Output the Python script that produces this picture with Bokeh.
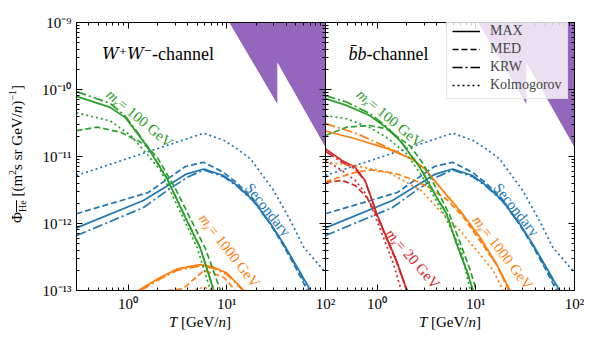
from bokeh.plotting import figure
from bokeh.models import LogAxis, LogTicker, Label, Legend, LegendItem, CustomJSTickFormatter, Div
from bokeh.layouts import row, column
from bokeh.embed import file_html
from bokeh.resources import INLINE

# ---------------- data (T in GeV/n, flux) ----------------
# secondary antihelium (same in both panels)
sec_max_T = [0.3, 1.43, 3.14, 3.81, 5.85, 9.25, 12.7, 18.6, 27.7, 37.5, 51.6, 70.5]
sec_max_phi = [8.6e-13, 2.2e-12, 4.5e-12, 5.4e-12, 6.5e-12, 5.2e-12, 3.7e-12, 2.2e-12, 1.0e-12, 5.0e-13, 2.23e-13, 1.0e-13]
sec_med_T = [0.3, 1.6, 3.81, 5.85, 9.25, 12.7, 18.6, 27.7, 37.5, 51.6, 65.6]
sec_med_phi = [1.4e-12, 2.9e-12, 7.1e-12, 8.2e-12, 5.8e-12, 4.0e-12, 2.3e-12, 9.7e-13, 4.7e-13, 2.0e-13, 1.0e-13]
sec_krw_T = [0.3, 1.43, 2.49, 3.97, 5.85, 9.25, 12.7, 18.6, 27.7, 37.5, 51.6, 69.0]
sec_krw_phi = [6.6e-13, 1.73e-12, 3.1e-12, 4.9e-12, 6.3e-12, 5.0e-12, 3.6e-12, 2.15e-12, 9.8e-13, 4.9e-13, 2.15e-13, 1.0e-13]
sec_kol_T = [0.3, 5.85, 9.4, 12.7, 17.4, 29.9, 44.2, 60.3, 100]
sec_kol_phi = [5.2e-12, 2.23e-11, 1.73e-11, 1.3e-11, 9.2e-12, 3.1e-12, 1.1e-12, 4.4e-13, 1.86e-13]

# W+W- channel, m = 100 GeV
ww100_max_T = [0.3, 0.66, 0.94, 1.56, 2.49, 3.81, 5.41, 7.38]
ww100_max_phi = [7.9e-11, 5.4e-11, 3.8e-11, 1.41e-11, 4.6e-12, 1.21e-12, 4.2e-13, 1.0e-13]
ww100_krw_T = [0.3, 0.66, 0.94, 1.56, 2.49, 3.81, 5.41, 7.38]
ww100_krw_phi = [9.3e-11, 6.2e-11, 4.0e-11, 1.45e-11, 4.7e-12, 1.24e-12, 4.3e-13, 1.02e-13]
ww100_med_T = [0.3, 0.486, 0.84, 1.44, 1.97, 3.02, 6.08, 8.63]
ww100_med_phi = [2.44e-11, 2.74e-11, 2.3e-11, 1.55e-11, 9.8e-12, 3.3e-12, 4.2e-13, 1.0e-13]
ww100_kol_T = [0.3, 0.66, 1.06, 1.44, 2.13, 5.0, 6.84]
ww100_kol_phi = [4.5e-11, 3.4e-11, 2.06e-11, 1.23e-11, 6.2e-12, 4.4e-13, 1.0e-13]

# W+W- channel, m = 1000 GeV
ww1000_max_T = [1.27, 2.13, 3.14, 5.41, 7.38, 10.1, 14.9]
ww1000_max_phi = [1.0e-13, 1.58e-13, 2.1e-13, 2.44e-13, 2.23e-13, 1.81e-13, 1.0e-13]
ww1000_krw_T = [1.35, 2.13, 3.14, 5.41, 7.38, 10.1, 14.6]
ww1000_krw_phi = [1.0e-13, 1.5e-13, 2.0e-13, 2.33e-13, 2.13e-13, 1.73e-13, 1.0e-13]
ww1000_med_T = [2.49, 3.6, 5.85, 9.3, 12.2]
ww1000_med_phi = [1.0e-13, 1.06e-13, 1.99e-13, 1.58e-13, 1.0e-13]
ww1000_kol_T = [4.3, 5.85, 8.0]
ww1000_kol_phi = [9.8e-14, 1.12e-13, 9.8e-14]

# b-bbar channel, m = 100 GeV
bb100_max_T = [0.3, 0.49, 0.84, 1.24, 1.70, 2.71, 4.0, 5.05, 6.37, 8.05, 9.37]
bb100_max_phi = [7.3e-11, 5.8e-11, 4.1e-11, 2.7e-11, 1.73e-11, 6.9e-12, 2.47e-12, 1.4e-12, 5.0e-13, 2.0e-13, 1.0e-13]
bb100_krw_T = [0.3, 0.49, 0.84, 1.24, 1.70, 2.71, 4.0, 5.05, 6.37, 8.05, 9.37]
bb100_krw_phi = [8.1e-11, 6.5e-11, 4.4e-11, 2.8e-11, 1.76e-11, 7.0e-12, 2.5e-12, 1.42e-12, 5.1e-13, 2.05e-13, 1.02e-13]
bb100_med_T = [0.3, 0.49, 0.84, 1.24, 2.14, 2.92, 3.84, 5.4, 7.0, 8.8, 10.1]
bb100_med_phi = [2.06e-11, 2.74e-11, 2.9e-11, 2.6e-11, 1.46e-11, 7.8e-12, 3.7e-12, 1.36e-12, 5.0e-13, 2.0e-13, 1.0e-13]
bb100_kol_T = [0.3, 0.49, 0.84, 1.24, 1.99, 3.04, 4.86, 7.1, 8.8]
bb100_kol_phi = [4.1e-11, 3.66e-11, 2.7e-11, 1.94e-11, 1.1e-11, 4.4e-12, 1.3e-12, 4.0e-13, 1.0e-13]

# b-bbar channel, m = 1000 GeV
bb1000_max_T = [0.3, 0.60, 1.30, 2.24, 3.06, 4.32, 6.88, 10.96, 16.2, 22.2]
bb1000_max_phi = [2.4e-11, 1.84e-11, 1.3e-11, 9.2e-12, 6.5e-12, 3.5e-12, 1.56e-12, 6.3e-13, 2.5e-13, 1.0e-13]
bb1000_krw_T = [0.3, 0.60, 1.30, 2.24, 3.06, 4.32, 6.88, 10.96, 16.2, 22.0]
bb1000_krw_phi = [3.1e-11, 2.25e-11, 1.35e-11, 9.3e-12, 6.5e-12, 3.5e-12, 1.55e-12, 6.2e-13, 2.45e-13, 1.0e-13]
bb1000_med_T = [0.3, 0.60, 0.88, 1.52, 2.24, 3.32, 5.05, 7.43, 10.96, 16.2, 21.6]
bb1000_med_phi = [4.2e-12, 5.8e-12, 6.3e-12, 5.6e-12, 4.6e-12, 3.5e-12, 2.3e-12, 1.27e-12, 5.6e-13, 2.44e-13, 1.0e-13]
bb1000_kol_T = [0.3, 0.60, 1.30, 2.8, 4.32, 6.88, 10.96, 15.0, 18.9]
bb1000_kol_phi = [8.2e-12, 7.3e-12, 5.8e-12, 3.1e-12, 1.56e-12, 7.9e-13, 3.5e-13, 2.0e-13, 1.0e-13]

# b-bbar channel, m = 20 GeV
bb20_max_T = [0.3, 0.44, 0.60, 0.755, 0.88, 0.99, 1.24, 1.57, 2.01]
bb20_max_phi = [1.3e-11, 8.7e-12, 6.9e-12, 4.4e-12, 2.34e-12, 1.4e-12, 6.3e-13, 2.8e-13, 1.0e-13]
bb20_krw_T = [0.3, 0.44, 0.60, 0.755, 0.88, 0.99, 1.24, 1.57, 2.0]
bb20_krw_phi = [1.2e-11, 8.2e-12, 6.5e-12, 4.3e-12, 2.3e-12, 1.38e-12, 6.2e-13, 2.75e-13, 1.0e-13]
bb20_med_T = [0.3, 0.44, 0.60, 0.79, 0.99, 1.24, 1.57, 2.0]
bb20_med_phi = [4.1e-12, 4.4e-12, 3.7e-12, 2.44e-12, 1.31e-12, 6.1e-13, 2.7e-13, 1.0e-13]
bb20_kol_T = [0.3, 0.44, 0.60, 0.75, 0.88, 1.14, 1.45, 1.76]
bb20_kol_phi = [8.7e-12, 6.2e-12, 4.4e-12, 2.9e-12, 1.73e-12, 6.6e-13, 2.6e-13, 1.0e-13]

# excluded (shaded) region
region_T = [10.6, 32.5, 32.5, 100, 100]
region_phi = [1.0e-9, 6.1e-11, 2.55e-10, 1.37e-11, 1.0e-9]

legend_labels = ["MAX", "MED", "KRW", "Kolmogorov"]

# ---------------- style ----------------
BLUE, GREEN, ORANGE, RED, PURPLE = "#1f77b4", "#2ca02c", "#ff7f0e", "#d62728", "#9467bd"
DASHES = ["solid", "6 3", "10 3 2 3", "2 3"]
FONT = "Liberation Serif"
LW = 1.7
NAN = float("nan")

SUP_CODE = """
const sup = {'-': '\u207b', '0': '\u2070', '1': '\u00b9', '2': '\u00b2', '3': '\u00b3',
             '4': '\u2074', '5': '\u2075', '6': '\u2076', '7': '\u2077', '8': '\u2078', '9': '\u2079'};
const e = Math.round(Math.log10(tick));
return '10' + String(e).split('').map(c => sup[c]).join('');
"""


def style_axis(ax, show_labels):
    ax.ticker = LogTicker(num_minor_ticks=10)
    ax.axis_line_color = "black"
    ax.major_tick_in = 6
    ax.major_tick_out = 0
    ax.minor_tick_in = 3
    ax.minor_tick_out = 0
    ax.major_tick_line_color = "black"
    ax.minor_tick_line_color = "black"
    if show_labels:
        ax.formatter = CustomJSTickFormatter(code=SUP_CODE)
        ax.major_label_text_font = FONT
        ax.major_label_text_font_size = "15px"
        ax.major_label_text_color = "black"
        ax.major_label_standoff = 5
    else:
        ax.major_label_text_font_size = "1px"
        ax.major_label_text_alpha = 0
        ax.major_label_standoff = 0


def make_fig(is_left):
    p = figure(x_axis_type="log", y_axis_type="log", x_range=(0.3, 100), y_range=(1e-13, 1e-9),
               frame_width=249, frame_height=268, output_backend="svg", toolbar_location=None,
               min_border_left=46 if is_left else 12, min_border_right=12 if is_left else 10,
               min_border_top=22, min_border_bottom=24)
    p.xgrid.visible = False
    p.ygrid.visible = False
    p.outline_line_color = "black"
    p.outline_line_width = 1
    p.background_fill_color = "white"
    if is_left:
        p.border_fill_color = "white"
    else:
        p.border_fill_alpha = 0.0
    style_axis(p.xaxis[0], True)
    style_axis(p.yaxis[0], is_left)
    top = LogAxis()
    style_axis(top, False)
    p.add_layout(top, "above")
    rgt = LogAxis()
    style_axis(rgt, False)
    p.add_layout(rgt, "right")
    p.patch(region_T, region_phi, fill_color=PURPLE, line_color=None)
    return p


def curves(p, sets, color):
    for (T, phi), dash in zip(sets, DASHES):
        p.line(T, phi, line_color=color, line_width=LW, line_dash=dash)


def lab(p, x, y, text, color="black", size="15px", angle=0, align="center", baseline="middle",
        style="normal", font=FONT):
    p.add_layout(Label(x=x, y=y, text=text, text_color=color,
                       text_font=font, text_font_size=size, text_font_style=style,
                       angle=angle, angle_units="deg", text_align=align, text_baseline=baseline))


def mass_label(p, x, y, mass, color, angle):
    lab(p, x, y, "m\u1d6a", color=color, angle=angle, align="right", style="italic")
    lab(p, x, y, " = " + mass + " GeV", color=color, angle=angle, align="left")


sec_sets = [(sec_max_T, sec_max_phi), (sec_med_T, sec_med_phi),
            (sec_krw_T, sec_krw_phi), (sec_kol_T, sec_kol_phi)]

# ---------------- left panel: W+W- ----------------
p1 = make_fig(True)
curves(p1, sec_sets, BLUE)
curves(p1, [(ww1000_max_T, ww1000_max_phi), (ww1000_med_T, ww1000_med_phi),
            (ww1000_krw_T, ww1000_krw_phi), (ww1000_kol_T, ww1000_kol_phi)], ORANGE)
curves(p1, [(ww100_max_T, ww100_max_phi), (ww100_med_T, ww100_med_phi),
            (ww100_krw_T, ww100_krw_phi), (ww100_kol_T, ww100_kol_phi)], GREEN)

lab(p1, 1.75, 3.4e-10, "W\u207aW\u207b", size="16px", align="right", baseline="alphabetic",
    style="italic", font="DejaVu Serif")
lab(p1, 1.75, 3.4e-10, "-channel", size="18px", align="left", baseline="alphabetic")
mass_label(p1, 0.826, 6.58e-11, "100", GREEN, -40)
mass_label(p1, 6.93, 8.8e-13, "1000", ORANGE, -52)
lab(p1, 26.1, 1.61e-12, "Secondary", color=BLUE, angle=-51.6)

# ---------------- right panel: b-bbar ----------------
p2 = make_fig(False)
curves(p2, sec_sets, BLUE)
curves(p2, [(bb20_max_T, bb20_max_phi), (bb20_med_T, bb20_med_phi),
            (bb20_krw_T, bb20_krw_phi), (bb20_kol_T, bb20_kol_phi)], RED)
curves(p2, [(bb1000_max_T, bb1000_max_phi), (bb1000_med_T, bb1000_med_phi),
            (bb1000_krw_T, bb1000_krw_phi), (bb1000_kol_T, bb1000_kol_phi)], ORANGE)
curves(p2, [(bb100_max_T, bb100_max_phi), (bb100_med_T, bb100_med_phi),
            (bb100_krw_T, bb100_krw_phi), (bb100_kol_T, bb100_kol_phi)], GREEN)

lab(p2, 0.78, 3.4e-10, "b\u0304b", size="18px", align="right", baseline="alphabetic", style="italic")
lab(p2, 0.78, 3.4e-10, "-channel", size="18px", align="left", baseline="alphabetic")
mass_label(p2, 0.851, 6.58e-11, "100", GREEN, -40)
mass_label(p2, 12.3, 8.3e-13, "1000", ORANGE, -52.5)
mass_label(p2, 1.64, 5.3e-13, "20", RED, -49)
lab(p2, 25.8, 1.61e-12, "Secondary", color=BLUE, angle=-51.6)

# legend
items = []
for name, dash in zip(legend_labels, DASHES):
    r = p2.line([NAN], [NAN], line_color="black", line_width=1.5, line_dash=dash)
    items.append(LegendItem(label=name, renderers=[r]))
leg = Legend(items=items, location=(121, 191), label_text_font=FONT, label_text_font_size="14px",
             glyph_width=28, glyph_height=14, label_height=14, label_standoff=10, padding=5,
             spacing=2, margin=0, border_line_color="#cccccc", border_line_width=1,
             background_fill_color="white", background_fill_alpha=0.8)
p2.add_layout(leg, "center")
p2.margin = (0, 0, 0, -24)

# ---------------- axis titles (HTML text, with sub/superscripts) ----------------
TXT = "font-family:'Liberation Serif';font-size:15px;color:black;white-space:nowrap;"
SUB = "font-size:10px;"
y_title = Div(width=30, height=314, margin=0, text=(
    "<div style='position:relative;width:30px;height:314px;'>"
    "<div style=\"position:absolute;left:-97px;top:143px;width:220px;height:22px;line-height:22px;"
    "text-align:center;transform:rotate(-90deg);" + TXT + "\">"
    "\u03a6<sub style='" + SUB + "text-decoration:overline;'>He</sub> "
    "[(m<sup style='" + SUB + "'>2</sup>s sr GeV/<i>n</i>)<sup style='" + SUB + "'>\u22121</sup>]"
    "</div></div>"))

x_title_html = "<i>T</i> [GeV/<i>n</i>]"
x_title = Div(width=584, height=28, margin=0, text=(
    "<div style='position:relative;width:584px;height:28px;'>"
    "<div style=\"position:absolute;left:150px;top:-2px;width:100px;height:20px;line-height:20px;"
    "text-align:center;" + TXT + "\">" + x_title_html + "</div>"
    "<div style=\"position:absolute;left:400px;top:-2px;width:100px;height:20px;line-height:20px;"
    "text-align:center;" + TXT + "\">" + x_title_html + "</div>"
    "</div>"))

layout = column(row(y_title, p1, p2), x_title)

open("out.html", "w").write(file_html(layout, INLINE))
